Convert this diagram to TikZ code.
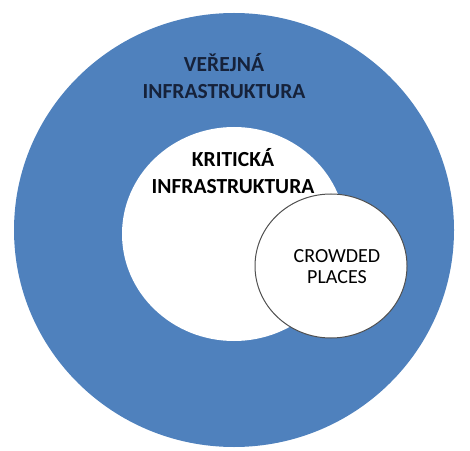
\documentclass[tikz,border=0pt]{standalone}
\usepackage{fontspec}
\setmainfont{Carlito}
\usetikzlibrary{shapes.geometric}
\definecolor{ringblue}{RGB}{79,129,189}
\definecolor{darknavy}{RGB}{22,34,58}
\definecolor{rimgray}{RGB}{80,80,80}

\begin{document}
\begin{tikzpicture}[x=1pt, y=1pt,
    area/.style={ellipse, inner sep=0pt, outer sep=0pt},
    biglabel/.style={align=center, font=\fontsize{21.5}{26.5}\selectfont\bfseries},
    smalllabel/.style={align=center, font=\fontsize{20}{21}\selectfont}]
\useasboundingbox (0, 0) rectangle (470, 450);
\node[area, fill=ringblue, minimum width=440, minimum height=434] (public) at (234, 220) {}; % Public
\node[area, fill=white, minimum width=224, minimum height=214] (critical) at (234, 216) {}; % Critical
\node[area, fill=white, draw=rimgray, line width=1pt, minimum width=152, minimum height=144] (crowded) at (331, 184) {}; % Crowded
\node[biglabel, text=darknavy] (publictext) at (224, 374) {VEŘEJNÁ\\INFRASTRUKTURA}; % Public
\node[biglabel, text=black] (criticaltext) at (233, 279) {KRITICKÁ\\INFRASTRUKTURA}; % Critical
\node[smalllabel, text=black] (crowdedtext) at (337, 183) {CROWDED\\PLACES}; % Crowded
\end{tikzpicture}
\end{document}
